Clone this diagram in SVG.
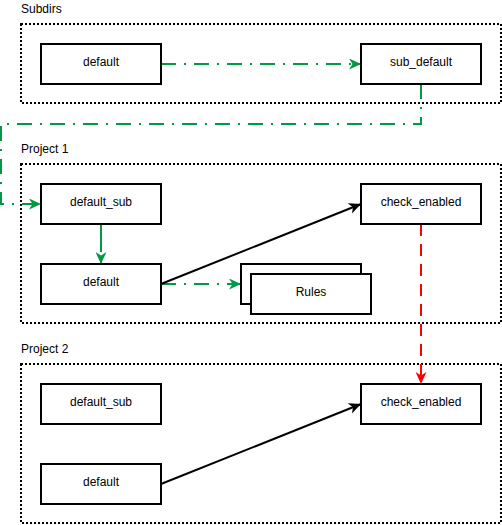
<svg xmlns="http://www.w3.org/2000/svg" width="502" height="525" viewBox="0 0 502 525">
<style>
.grp{fill:none;stroke:#000;stroke-width:2;stroke-dasharray:2 2}
.node rect{fill:#fff;stroke:#000;stroke-width:2}
text{font-family:"Liberation Sans",Arial,sans-serif;font-size:12px;fill:#000}
.c{text-anchor:middle}
.g{fill:none;stroke:#009944;stroke-width:2;stroke-dasharray:15 8 2 8}
.gd{fill:none;stroke:#009944;stroke-width:2;stroke-dasharray:28 6}
.k{fill:none;stroke:#000;stroke-width:2}
.r{fill:none;stroke:#ff0000;stroke-width:2;stroke-dasharray:12 8}
</style>
<defs>
<marker id="ag" markerWidth="12" markerHeight="11" refX="12" refY="5.5" orient="auto" markerUnits="userSpaceOnUse"><path d="M0,0 L12,5.5 L0,11 L3.5,5.5 z" fill="#009944"/></marker>
<marker id="ak" markerWidth="12" markerHeight="11" refX="12" refY="5.5" orient="auto" markerUnits="userSpaceOnUse"><path d="M0,0 L12,5.5 L0,11 L3.5,5.5 z" fill="#000"/></marker>
<marker id="ar" markerWidth="12" markerHeight="11" refX="12" refY="5.5" orient="auto" markerUnits="userSpaceOnUse"><path d="M0,0 L12,5.5 L0,11 L3.5,5.5 z" fill="#ff0000"/></marker>
</defs>
<g id="subdirs"><rect class="grp" x="21" y="24" width="480" height="79"/><text x="21" y="13">Subdirs</text></g>
<g id="project1"><rect class="grp" x="21" y="164" width="480" height="159"/><text x="21" y="153">Project 1</text></g>
<g id="project2"><rect class="grp" x="21" y="364" width="480" height="159"/><text x="21" y="353">Project 2</text></g>
<g id="connectors">
<path class="g" d="M161,64 L361,64" marker-end="url(#ag)"/>
<path class="g" d="M421,84 L421,124 L1,124 L1,204 L41,204" marker-end="url(#ag)"/>
<path class="gd" d="M101,224 L101,264" marker-end="url(#ag)"/>
<path class="g" d="M161,284 L241,284" marker-end="url(#ag)"/>
<path class="k" d="M161,284 L361,204" marker-end="url(#ak)"/>
<path class="r" d="M421,224 L421,384" marker-end="url(#ar)"/>
<path class="k" d="M161,484 L361,404" marker-end="url(#ak)"/>
</g>
<g id="sd_default" class="node"><rect x="41" y="44" width="120" height="40"/><text class="c" x="101" y="66">default</text></g>
<g id="sd_sub_default" class="node"><rect x="361" y="44" width="120" height="40"/><text class="c" x="421" y="66">sub_default</text></g>
<g id="p1_default_sub" class="node"><rect x="41" y="184" width="120" height="40"/><text class="c" x="101" y="206">default_sub</text></g>
<g id="p1_default" class="node"><rect x="41" y="264" width="120" height="40"/><text class="c" x="101" y="286">default</text></g>
<g id="p1_check_enabled" class="node"><rect x="361" y="184" width="120" height="40"/><text class="c" x="421" y="206">check_enabled</text></g>
<g id="p1_rules" class="node"><rect x="241" y="264" width="120" height="40"/><rect x="251" y="274" width="120" height="40"/><text class="c" x="311" y="296">Rules</text></g>
<g id="p2_default_sub" class="node"><rect x="41" y="384" width="120" height="40"/><text class="c" x="101" y="406">default_sub</text></g>
<g id="p2_default" class="node"><rect x="41" y="464" width="120" height="40"/><text class="c" x="101" y="486">default</text></g>
<g id="p2_check_enabled" class="node"><rect x="361" y="384" width="120" height="40"/><text class="c" x="421" y="406">check_enabled</text></g>
</svg>
